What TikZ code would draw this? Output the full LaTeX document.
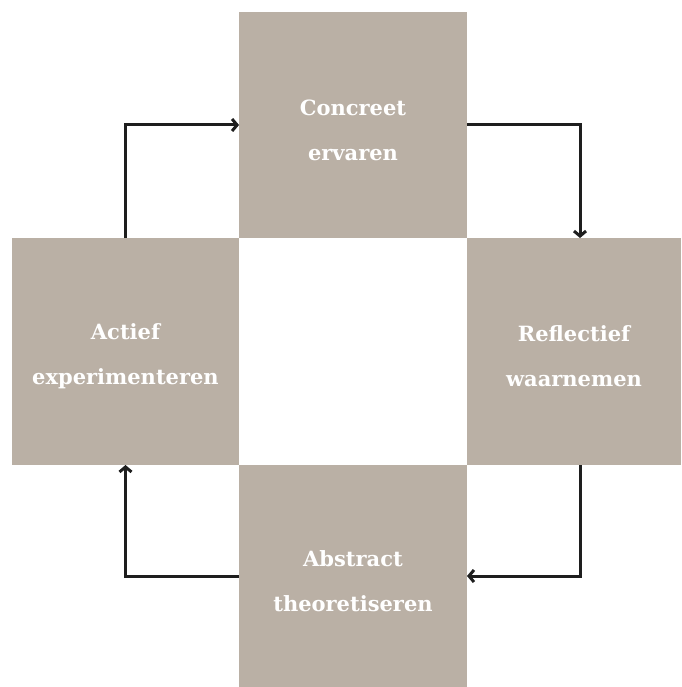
\documentclass[tikz,border=0pt]{standalone}
\usepackage{fontspec}
\setmainfont{DejaVu Serif}
\usetikzlibrary{arrows.meta, positioning}

\definecolor{stone}{HTML}{BAB0A5}
\definecolor{ink}{HTML}{1E1E1E}

\begin{document}
\begin{tikzpicture}[
        x=1pt, y=-1pt,
        % Style for the four stages
        stage/.style={fill=stone, rectangle, inner sep=0pt, outer sep=0pt, align=center,
            text=white, font=\bfseries\fontsize{21}{45}\selectfont, text height=71pt},
        arrow/.style={-{Straight Barb[length=5pt, width=12pt, line width=3pt]}, line width=3pt, draw=ink}
    ]
    \useasboundingbox (0,0) rectangle (681,687);

    % Stage nodes
    \node[stage, minimum width=228pt, minimum height=226pt] at (353, 125) (concreet) {Concreet\\ ervaren};
    \node[stage, minimum width=227pt, minimum height=227pt] at (125.5, 351.5) (actief) {Actief\\ experimenteren};
    \node[stage, minimum width=214pt, minimum height=227pt] at (574, 351.5) (reflectief) {Reflectief\\ waarnemen};
    \node[stage, minimum width=228pt, minimum height=222pt] at (353, 576) (abstract) {Abstract\\ theoretiseren};

    % Drawing the cycle
    \draw[arrow] (actief.north) |- (concreet.west);
    \draw[arrow] (concreet.east) -| ([xshift=6pt]reflectief.north);
    \draw[arrow] ([xshift=6pt]reflectief.south) |- (abstract.east);
    \draw[arrow] (abstract.west) -| (actief.south);
\end{tikzpicture}
\end{document}
